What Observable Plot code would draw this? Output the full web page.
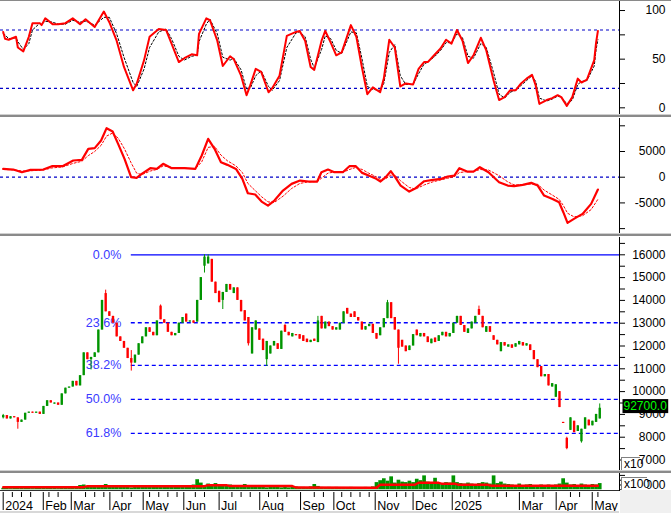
<!DOCTYPE html>
<html><head><meta charset="utf-8">
<script src="https://cdn.jsdelivr.net/npm/d3@7"></script>
<script src="https://cdn.jsdelivr.net/npm/@observablehq/plot@0.6"></script>
<style>
body{margin:0;background:#fff;}
#chart{position:relative;width:671px;height:513px;overflow:hidden;background:#fff;font-family:"Liberation Sans",Arial,sans-serif;}
#chart svg{position:absolute;left:0;overflow:visible;}
.band{position:absolute;left:0;width:671px;}
</style></head><body><div id="chart"></div>
<script>
// ---------- DATA (trading-day index: 0 = first session of Jan 2024; bars every 2 sessions) ----------
const opens = [8850,8950,8800,8900,8850,8650,8750,9050,9100,9050,9100,9000,9350,9600,9450,9500,9400,9900,10150,10200,10450,10250,10700,11700,11400,11500,11700,12700,14300,13500,
13300,13000,12400,12200,11900,11450,11250,11600,12100,12400,12800,12600,12450,13750,13150,13000,12600,12450,12550,13000,13400,13050,13100,13050,14000,15500,15600,15800,14800,14400,
14000,14350,14700,14300,14550,14000,13550,13250,11650,12700,12750,12300,11400,11650,12000,12100,11850,12900,12600,12400,12500,12500,12450,12300,12150,12300,12150,13300,12750,13050,
12850,12700,12700,13000,13650,13400,13500,13250,13050,12700,12850,12950,12550,12450,12800,13200,13900,13250,12700,12250,12000,11800,12000,12700,12400,12550,12400,12100,12350,12200,
12450,12600,12400,12550,13000,13300,12900,12550,12750,13000,13600,13300,12600,12850,12450,12250,11750,12150,11950,12050,11950,12050,12150,12000,12050,11800,11400,11100,10650,10750,
10200,9750,10000,8650,7950,8300,8700,8250,7800,8350,8750,8500,8650,8800];
const closes = [8950,8800,8900,8850,8650,8750,9050,9100,9050,9100,9000,9350,9600,9500,9500,9400,9900,10150,10200,10450,10250,10700,11700,11400,11500,11700,12700,14000,13500,13300,
13000,12400,12200,11900,11450,11250,11600,12100,12400,12800,12600,12450,13100,13150,13000,12600,12450,12550,13000,13250,13050,13100,13000,14000,15000,15900,15900,14800,14300,13900,
14350,14700,14450,14550,14000,13500,13100,12100,12800,13100,12250,11800,12200,12000,12200,11850,12650,12600,12450,12550,12450,12300,12200,12150,12250,12200,13100,12750,13050,12850,
12700,12800,13000,13500,13400,13250,13250,13100,12700,12850,12950,12550,12300,12800,13200,13900,13200,12700,11900,11950,11750,12000,12500,12450,12550,12400,12150,12300,12150,12450,
12600,12400,12550,13000,13300,12900,12600,12750,13050,13300,13350,12800,12850,12600,12250,12050,12150,12000,12050,11900,12100,12200,12000,12100,11800,11400,11050,10650,10750,10250,
10350,10300,9300,8600,7500,8850,8200,8500,8350,8850,8500,8700,9000,9270];
const wickBar  = [0,4,24,28,35,43,55,56,60,67,72,77,86,105,108,130,154,158,163];
const wickHigh = [9000,8850,11500,14450,11800,13800,16000,16000,14350,13250,12200,12950,13300,14000,12700,13750,8000,8350,9460];
const wickLow  = [8800,8350,10950,13500,10900,13150,15200,15600,13600,12000,11100,12600,12150,13200,11200,13350,7450,7740,8800];
const volumes = [300,350,250,400,450,300,350,300,250,300,350,
300,400,350,300,250,300,350,400,
500,600,900,1000,700,600,500,600,900,1100,800,
600,700,500,600,500,400,500,600,500,600,
500,600,700,500,600,900,600,500,600,500,
600,900,1000,2100,1400,900,1200,800,1300,700,
900,700,1000,800,700,800,1100,900,700,600,500,
500,400,500,600,500,400,500,400,500,600,500,
500,400,600,1100,700,500,400,500,
400,500,400,350,400,500,400,350,400,500,450,600,
1500,1900,2300,1800,2700,1400,2000,1600,1500,1800,
1500,2200,1900,2900,1600,1400,2400,1300,1200,1500,1400,
2900,1500,1300,1200,1400,1200,1100,1300,1500,
1400,1200,2900,1300,1600,1200,1100,1000,900,1200,
900,1000,1100,900,800,1000,900,1000,900,1000,
1200,2300,1400,1000,1100,900,1200,1000,900,1100,1000,1300];
const volMADays = [0,44,46,110,112,122,124,158,160,204,206,225,227,238,240,247,249,265,267,325];
const volMA     = [540,540,750,750,960,960,780,780,480,430,1040,1040,1460,1460,1250,1250,1040,1040,830,830];

const stochDays = [0,1,3,7,8,11,14,16,20,21,23,27,30,34,38,42,45,50,55,58,62,66,71,73,77,80,85,89,92,96,99,103,106,107,111,113,117,120,124,126,130,133,135,138,141,145,147,151,155,160,162,165,168,170,174,176,179,182,185,190,193,196,199,202,206,208,211,214,217,220,224,227,230,232,236,239,242,245,248,251,254,257,261,264,268,271,274,277,280,283,286,289,291,293,297,300,303,305,308,311,314,316,319,323,324,325];
const stochK = [78,71,70,73,62,58,73,87,87,85,92,86,86,87,92,86,91,83,99,88,69,42,18,25,49,73,81,80,66,47,51,55,54,76,92,90,69,43,53,50,33,13,23,40,37,16,20,33,74,78,79,69,42,39,69,79,67,54,57,85,73,42,14,21,16,30,70,62,22,25,24,40,47,47,55,61,70,66,80,69,46,54,72,59,28,8,11,18,18,25,30,34,23,4,8,10,13,11,2,11,30,26,29,49,67,79];
const stochD = [76,75,71,72,68,60,66,80,87,86,89,88,86,86,90,88,89,85,93,93,76,52,26,22,40,62,78,81,71,53,49,53,54,68,86,91,76,52,49,51,39,19,20,33,38,22,18,28,62,77,78,73,50,41,60,74,71,59,56,78,77,51,22,19,18,25,57,65,33,24,24,35,45,47,53,59,67,67,76,72,53,51,66,62,36,14,10,16,18,23,28,33,27,10,7,9,12,11,4,8,24,27,28,43,60,70];

const macdDays = [0,5.5,10.2,14.9,21.9,26.6,32.4,38.3,43,46.5,50,53.5,56.5,59.8,62.8,66.3,69.9,72.9,75.7,80.4,83.9,87.4,92.1,99.1,105,108.5,112,115.5,119,122.5,127.2,130.7,133.7,137.7,141.2,144.7,148.2,152.9,157.6,162.2,166.9,171.6,173.9,177.5,181,185.6,189.2,192.7,196.2,199.7,203.2,206.2,209,211.8,214.2,217.2,221.9,225.4,230.1,234.8,239.4,242.9,246.5,249.3,253.5,257,260.5,265.2,271,275.7,279.2,283.9,288.6,292.1,295.6,300.2,303.8,306.1,308.4,311.9,316.6,321.3,325];
const macd = [1620,1490,970,1430,1490,2140,2140,3250,3370,5520,5650,7140,9540,8890,6490,3570,0,-130,650,1750,1620,2600,1750,1750,1620,4220,7460,5520,2920,2400,1620,-320,-3120,-3370,-4740,-5520,-4540,-2600,-1300,-650,-840,-840,970,1490,970,970,2140,2140,840,320,-190,-840,0,1170,0,-1620,-2790,-2140,-780,-520,-320,130,320,1750,1100,1100,1950,970,-970,-1620,-1750,-1490,-1100,-1620,-3570,-4220,-4870,-6810,-8890,-8110,-7140,-5190,-2400];
const signal = [1500,1450,1200,1250,1400,1800,2000,2700,3100,4200,5000,6200,8000,8600,7600,5500,2800,800,500,1200,1500,2200,1900,1750,1650,3000,5800,6000,4300,3200,2200,900,-1200,-2600,-3800,-4800,-4900,-3700,-2200,-1200,-900,-850,-200,800,1000,950,1500,1900,1500,800,200,-400,-300,400,300,-700,-2000,-2300,-1500,-900,-500,-200,100,900,1100,1100,1500,1400,300,-900,-1500,-1500,-1300,-1400,-2500,-3500,-4300,-5500,-7000,-7700,-7500,-6300,-4300];

const fibLabels = ["0.0%","23.6%","38.2%","50.0%","61.8%"];
const fibValues = [16000,13020,11150,9660,8170];
const fibStartDay = 70;

const monthNames = ["2024","Feb","Mar","Apr","May","Jun","Jul","Aug","Sep","Oct","Nov","Dec","2025","Mar","Apr","May"];
const monthDays  = [0,21.9,37.2,58.3,76.5,98.7,118,140.2,162.5,180.7,203.3,224,245.4,282.1,302.2,321.9];

const stochTicks = [0,25,50,75,100], stochLabels=[0,50,100];
const macdTicks = [-10000,-5000,0,5000,10000], macdLabels=[-5000,0,5000];
const priceTicks = d3.range(7000,16501,500), priceLabels = d3.range(7000,16001,1000);
const lastPriceText = "92700.0";

// ---------- BUILD ----------
const W=671, PR=619, xDomain=[-1.475,336.8];
const FONT='"Liberation Sans", Arial, sans-serif';
const GREEN="#009400", RED="#ff0000", BLUE="#0000c8";
const bars = opens.map((o,k)=>{
  const c=closes[k], wi=wickBar.indexOf(k);
  const hi = wi>=0 ? Math.max(wickHigh[wi],o,c) : Math.max(o,c);
  const lo = wi>=0 ? Math.min(wickLow[wi],o,c) : Math.min(o,c);
  return {day:k*2, open:o, close:c, high:hi, low:lo, vol:volumes[k], up:c>=o};
});
const chart=document.getElementById("chart");
function panel(top,h,ydom,marks){
  const svg=Plot.plot({width:W,height:h,marginLeft:0,marginRight:W-PR,marginTop:0,marginBottom:0,
    x:{domain:xDomain,axis:null},y:{domain:ydom,axis:null},
    style:{fontFamily:FONT,fontSize:"12px",background:"transparent",color:"black"},marks});
  svg.style.top=top+"px"; chart.append(svg); return svg;
}
function rightAxis(ticks,labels,fmt){
  return [
    Plot.frame({anchor:"right",stroke:"black"}),
    Plot.axisY({anchor:"right",ticks,tickSize:5,tickFormat:()=>"",label:null}),
    Plot.text(labels,{y:d=>d,text:fmt||(d=>String(d)),frameAnchor:"right",dx:46,textAnchor:"end",fill:"black",fontSize:12})
  ];
}
// Panel 1: stochastic
panel(0,115,[-7.9,110.3],[
  Plot.ruleY([20,80],{stroke:BLUE,strokeDasharray:"3,3",strokeWidth:1.2}),
  Plot.line(stochDays.map((d,i)=>({d,v:stochD[i]})),{x:"d",y:"v",stroke:"black",strokeWidth:1,strokeDasharray:"2,2"}),
  Plot.line(stochDays.map((d,i)=>({d,v:stochK[i]})),{x:"d",y:"v",stroke:RED,strokeWidth:2}),
  ...rightAxis(stochTicks,stochLabels)
]);
// Panel 2: MACD
panel(118,115,[-10950,11420],[
  Plot.ruleY([0],{stroke:BLUE,strokeDasharray:"3,3",strokeWidth:1.2}),
  Plot.line(macdDays.map((d,i)=>({d,v:signal[i]})),{x:"d",y:"v",stroke:RED,strokeWidth:1,strokeDasharray:"2,2"}),
  Plot.line(macdDays.map((d,i)=>({d,v:macd[i]})),{x:"d",y:"v",stroke:RED,strokeWidth:2.2}),
  ...rightAxis(macdTicks,macdLabels)
]);
// Panel 3: price
const fib = fibLabels.map((l,i)=>({label:l,value:fibValues[i]}));
const last = bars[bars.length-1];
const priceSvg = panel(237,234,[6496,16759],[
  Plot.ruleY(fib.slice(0,1),{y:"value",x1:fibStartDay,x2:xDomain[1],stroke:"#0000ff",strokeWidth:1.3}),
  Plot.ruleY(fib.slice(1),{y:"value",x1:fibStartDay,x2:xDomain[1],stroke:"#0000ff",strokeWidth:1.3,strokeDasharray:"4,3"}),
  Plot.text(fib,{x:fibStartDay,y:"value",text:"label",textAnchor:"end",dx:-10,fill:"#3a3aff",fontSize:12.5}),
  Plot.ruleX(bars,{x:"day",y1:"low",y2:"high",stroke:d=>d.up?GREEN:RED,strokeWidth:1}),
  Plot.ruleX(bars,{x:"day",y1:"open",y2:"close",stroke:d=>d.up?GREEN:RED,strokeWidth:2.4}),
  ...rightAxis(priceTicks,priceLabels),
  Plot.text([last],{y:"close",text:()=>lastPriceText,frameAnchor:"right",dx:4,dy:-2,textAnchor:"start",fill:"#00ff00",fontSize:12})
]);
// value box behind last price label
(function(){
  const t=[...priceSvg.querySelectorAll("text")].find(e=>e.textContent===lastPriceText);
  if(t){const b=t.getBBox();const r=document.createElementNS("http://www.w3.org/2000/svg","rect");
    r.setAttribute("x",b.x-1);r.setAttribute("y",b.y);r.setAttribute("width",b.width+2);r.setAttribute("height",b.height);
    r.setAttribute("fill","black");
    const tr=t.getAttribute("transform"); if(tr) r.setAttribute("transform",tr);
    t.parentNode.insertBefore(r,t);}
})();
// Panel 4: volume
panel(473,17,[-146,3396],[
  Plot.ruleX(bars,{x:"day",y1:0,y2:"vol",stroke:GREEN,strokeWidth:3.7}),
  Plot.line(volMADays.map((d,i)=>({d,v:volMA[i]})),{x:"d",y:"v",stroke:RED,strokeWidth:2.4}),
  ...rightAxis([0,1000,2000,3000],[1000])
]);
// Panel 5: x axis
const minor = d3.range(0,326,5).filter(d=>monthDays.every(m=>Math.abs(m-d)>3));
panel(490,21,[0,1],[
  Plot.tickX(monthDays,{x:d=>d,stroke:"black",insetTop:2,insetBottom:1}),
  Plot.tickX(minor,{x:d=>d,stroke:"black",insetTop:2,insetBottom:14}),
  Plot.text(monthNames.map((n,i)=>({n,d:monthDays[i]})),{x:"d",text:"n",frameAnchor:"top",dy:11,dx:2,textAnchor:"start",fill:"black",fontSize:12.5})
]);
// chrome: separators, boxes
function band(top,h,bg,left,width){const d=document.createElement("div");d.className="band";d.style.top=top+"px";d.style.height=h+"px";d.style.background=bg;if(left!=null){d.style.left=left+"px";d.style.width=width+"px";}chart.append(d);return d;}
band(0,1,"#8a8a8a");
band(114,1,"#d0d0d0");band(115,2,"#8a8a8a");
band(233,1,"#d0d0d0");band(234,2,"#8a8a8a");
band(470,1,"#d0d0d0");band(471,2,"#8a8a8a");
band(490,1,"#303030",0,PR);
band(490,23,"#f0f0f0",PR+1,W-PR-1);
band(511,2,"#d8d8d8",0,PR);
function box(top,left,w,h,txt){const d=band(top,h,"#fff",left,w);d.style.borderTop="1px solid #808080";d.style.borderLeft="1px solid #808080";d.style.boxSizing="border-box";d.style.font="12px "+FONT;d.style.lineHeight=(h-1)+"px";d.style.paddingLeft="2px";d.textContent=txt;}
box(457,621,19,13,"x10");
box(477,621,26,13,"x100");
</script></body></html>
